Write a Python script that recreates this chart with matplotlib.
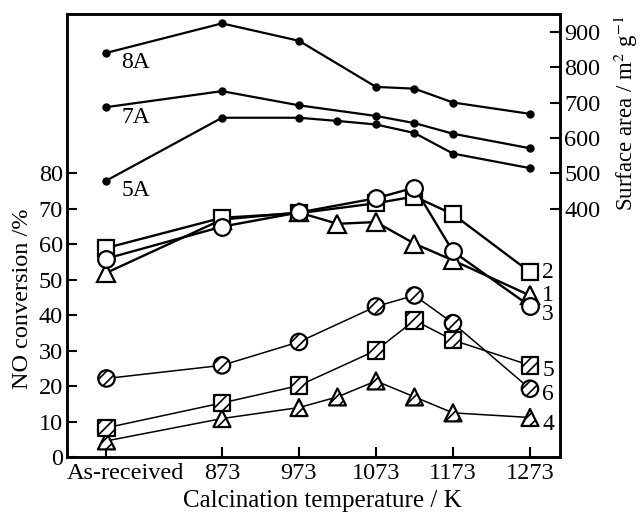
import matplotlib
matplotlib.use('Agg')
import matplotlib.pyplot as plt
from matplotlib.transforms import ScaledTranslation

plt.rcParams['font.family'] = ['Liberation Serif', 'DejaVu Serif']
plt.rcParams['mathtext.fontset'] = 'stix'
plt.rcParams['hatch.linewidth'] = 1.2

# x positions: as-received sample placed left of 873 K
x_all = [723, 873, 973, 1023, 1073, 1123, 1173, 1273]
x_main = [723, 873, 973, 1073, 1123, 1173, 1273]
tick_pos = [723, 873, 973, 1073, 1173, 1273]
tick_labels = ['As-received', '873', '973', '1073', '1173', '1273']

# surface area (m2/g), right axis
sa_8A = [840, 923, 874, 744, 739, 700, 668]
sa_7A = [687, 732, 692, 662, 642, 612, 571]
sa_5A = [480, 657, 657, 648, 638, 614, 556, 515]

# NO conversion (%), left axis
conv_1 = [52, 67, 69, 65.8, 66.3, 60.2, 55.5, 45.6]   # open triangle
conv_2 = [59, 67.5, 68.8, 71.6, 73.5, 68.5, 52.2]      # open square
conv_3 = [56, 65, 69, 73, 76, 58, 42.6]                # open circle
conv_4 = [4.6, 10.9, 14, 17, 21.5, 17, 12.5, 11.2]     # hatched triangle
conv_5 = [8.3, 15.3, 20.2, 30.1, 38.6, 33, 25.9]       # hatched square
conv_6 = [22.2, 25.9, 32.5, 42.5, 45.6, 37.8, 19.3]    # hatched circle

fig = plt.figure(figsize=(6.4, 5.12), dpi=100)
ax = fig.add_subplot(111)
fig.subplots_adjust(left=0.105, right=0.875, top=0.973, bottom=0.107)
ax2 = ax.twinx()

# surface area lines
for vals, xs, name in [(sa_8A, x_main, '8A'), (sa_7A, x_main, '7A'), (sa_5A, x_all, '5A')]:
    ax2.plot(xs, vals, color='black', lw=1.6, marker='o', ms=5, zorder=3)
    ax2.text(742, vals[0] - 28, name, fontsize=17, va='center', ha='left')

# open-marker series
ax.plot(x_all, conv_1, color='black', lw=1.7, marker='^', ms=13, mfc='white', mec='black', mew=1.6, zorder=4)
ax.plot(x_main, conv_2, color='black', lw=1.7, marker='s', ms=12, mfc='white', mec='black', mew=1.6, zorder=4)
ax.plot(x_main, conv_3, color='black', lw=1.7, marker='o', ms=12, mfc='white', mec='black', mew=1.6, zorder=5)

# hatched-marker series
for xs, vals, mk, sz in [(x_all, conv_4, '^', 150), (x_main, conv_5, 's', 140), (x_main, conv_6, 'o', 140)]:
    ax.plot(xs, vals, color='black', lw=1.1, zorder=3)
    ax.scatter(xs, vals, marker=mk, s=sz, facecolor='white', edgecolor='black',
               linewidths=1.6, hatch='///', zorder=4)

# series numbers at right end
for vals, lab, dy in [(conv_2, '2', 0), (conv_1, '1', 0), (conv_3, '3', -2.5),
                      (conv_5, '5', -1.5), (conv_6, '6', -1.5), (conv_4, '4', -2)]:
    ax.text(1289, vals[-1] + dy, lab, fontsize=17, va='center', ha='left')

ax.set_xlim(672, 1312)
ax.set_ylim(0, 125)
ax2.set_ylim(-300, 950)
ax.set_xticks(tick_pos)
ax.set_xticklabels(tick_labels)
ax.set_yticks(range(0, 90, 10))
ax2.set_yticks(range(400, 1000, 100))

for a in (ax, ax2):
    a.tick_params(direction='in', length=7, width=1.5, labelsize=17.5, pad=3)
    for s in a.spines.values():
        s.set_linewidth(1.8)
ax.tick_params(axis='x', top=False, pad=4)

# "As-received" sits right of its tick, next to the spine
first = ax.xaxis.get_major_ticks()[0].label1
first.set_transform(first.get_transform() + ScaledTranslation(0.19, 0, fig.dpi_scale_trans))

ax.set_xlabel('Calcination temperature / K', fontsize=18, labelpad=4)
ax.xaxis.set_label_coords(0.517, -0.075)
ax.set_ylabel('NO conversion /%', fontsize=17.5)
ax.yaxis.set_label_coords(-0.069, 0.357)
ax2.set_ylabel('Surface area / m$^2$ g$^{-1}$', fontsize=16.5, rotation=90)
ax2.yaxis.set_label_coords(1.105, 0.775)

fig.savefig('out.png', dpi=100)
